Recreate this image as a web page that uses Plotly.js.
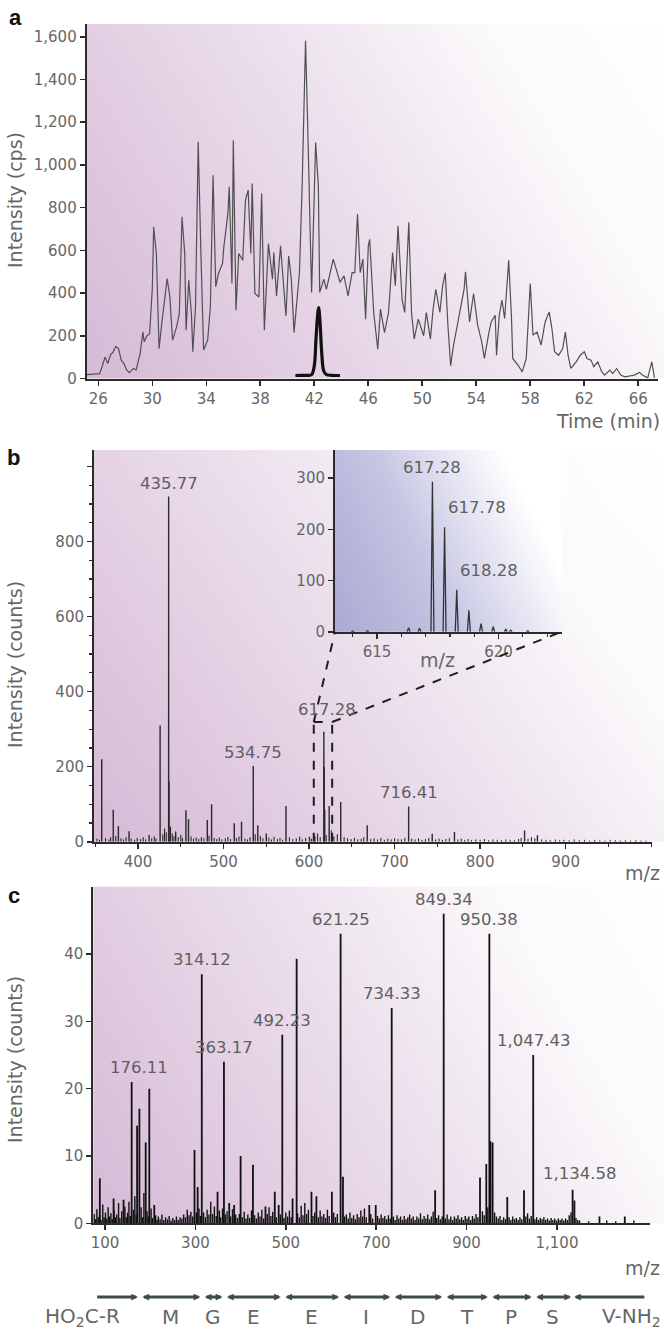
<!DOCTYPE html>
<html><head><meta charset="utf-8">
<script src="https://cdn.plot.ly/plotly-3.0.1.min.js"></script>
<style>html,body{margin:0;padding:0;background:#fff;}#chart{width:664px;height:1331px;}</style>
</head><body><div id="chart"></div>
<script>
// ---------------- DATA ----------------
// Panel a: total ion chromatogram (time min, intensity cps)
const ticPoints = [[25.15,18],[25.6,20],[26.1,23],[26.3,60],[26.5,100],[26.7,70],[26.9,110],[27.1,125],[27.3,150],[27.5,140],[27.7,86],[27.9,70],[28.1,40],[28.3,27],[28.6,47],[28.8,40],[29.1,117],[29.3,218],[29.4,172],[29.6,200],[29.8,210],[30.0,420],[30.1,710],[30.3,585],[30.5,140],[30.7,258],[30.9,367],[31.1,468],[31.3,382],[31.5,180],[31.8,242],[32.0,304],[32.2,757],[32.4,585],[32.5,226],[32.7,460],[32.9,300],[33.0,125],[33.2,335],[33.4,1108],[33.6,585],[33.8,133],[34.1,180],[34.3,335],[34.5,952],[34.7,430],[34.9,492],[35.2,538],[35.3,617],[35.6,773],[35.7,898],[35.9,445],[36.0,1116],[36.2,320],[36.4,585],[36.7,554],[36.9,835],[37.1,882],[37.3,585],[37.4,913],[37.6,398],[37.9,382],[38.1,866],[38.3,226],[38.6,632],[38.9,465],[39.0,590],[39.2,387],[39.5,621],[39.7,450],[39.9,293],[40.1,574],[40.3,465],[40.5,215],[40.7,371],[40.9,496],[41.1,902],[41.35,1581],[41.5,1214],[41.8,403],[42.1,1105],[42.3,902],[42.4,403],[42.7,465],[42.9,418],[43.2,496],[43.4,559],[43.7,496],[43.9,450],[44.2,481],[44.5,387],[44.8,496],[45.0,496],[45.2,770],[45.4,496],[45.6,559],[45.8,278],[46.0,621],[46.1,652],[46.4,309],[46.7,137],[46.9,325],[47.2,215],[47.5,309],[47.8,590],[48.0,434],[48.2,715],[48.5,371],[48.7,309],[49.0,731],[49.2,309],[49.4,184],[49.7,278],[50.1,200],[50.3,309],[50.6,184],[50.8,325],[51.0,418],[51.3,309],[51.5,430],[51.7,495],[51.9,247],[52.1,60],[52.3,150],[52.5,215],[52.9,340],[53.1,420],[53.2,500],[53.5,265],[53.8,398],[54.1,250],[54.4,172],[54.6,94],[54.9,203],[55.1,265],[55.4,296],[55.5,109],[55.7,296],[55.9,367],[56.1,281],[56.4,554],[56.6,296],[56.7,94],[57.1,62],[57.4,31],[57.7,94],[58.0,445],[58.2,203],[58.5,218],[58.8,156],[59.1,265],[59.4,312],[59.6,234],[59.8,125],[60.1,109],[60.4,140],[60.6,218],[60.8,109],[61.0,47],[61.4,78],[61.7,109],[62.0,125],[62.2,94],[62.5,86],[62.7,55],[63.0,78],[63.3,31],[63.5,16],[63.9,39],[64.1,23],[64.4,47],[64.7,16],[65.0,8],[65.4,12],[65.7,16],[66.1,28],[66.3,16],[66.7,3],[67.0,78],[67.2,3]];
// Panel a: selected ion chromatogram
const sicPoints = [[40.6,14],[41.0,15],[41.5,15],[41.8,18],[42.0,60],[42.12,180],[42.25,300],[42.32,332],[42.42,270],[42.55,120],[42.7,35],[42.9,18],[43.3,15],[43.9,14]];
const timeTicks = [26,30,34,38,42,46,50,54,58,62,66];
const ticYTicks = [0,200,400,600,800,1000,1200,1400,1600];

// Panel b: MS spectrum (m/z, counts)
const msPeaks = [[357.5,220],[371,85],[377,42],[389.5,28],[413,18],[425.8,310],[435.77,920],[436.27,160],[444,27],[456,84],[459,60],[481,58],[486,100],[512.5,49],[521,53],[534.75,202],[540,44],[550,22],[573,95],[600.5,13],[617.28,293],[617.78,200],[618.28,85],[623.5,95],[637,106],[668,44],[716.41,94],[744,21],[770,26],[852,30],[867,17]];
const msNoise = [[352,8],[355,5],[362,10],[366,6],[368,12],[374,15],[380,9],[383,6],[386,12],[392,8],[396,5],[399,10],[403,7],[406,12],[409,6],[416,9],[419,14],[421,8],[429,20],[431,35],[433,25],[438,40],[440,22],[442,15],[447,12],[450,18],[452,10],[462,14],[465,8],[468,11],[471,7],[474,12],[477,9],[483,16],[489,10],[492,7],[495,11],[498,6],[502,9],[505,13],[508,7],[515,10],[518,14],[525,8],[528,6],[531,12],[537,20],[543,15],[546,9],[553,11],[556,6],[559,13],[563,7],[566,10],[569,5],[577,12],[581,7],[585,9],[589,14],[592,6],[596,10],[603,8],[607,15],[610,22],[613,12],[620,18],[626,30],[629,14],[633,20],[641,12],[645,9],[649,7],[653,10],[657,6],[661,8],[664,12],[672,7],[676,9],[680,6],[684,10],[688,5],[692,8],[696,6],[700,9],[704,7],[708,6],[712,10],[720,8],[724,6],[728,9],[732,5],[736,7],[740,10],[748,6],[752,8],[756,5],[760,7],[764,9],[774,6],[778,8],[782,5],[786,7],[790,4],[795,6],[800,5],[805,7],[810,4],[815,6],[820,5],[825,4],[830,6],[835,5],[840,4],[845,7],[848,10],[856,8],[860,12],[864,9],[872,6],[877,5],[882,4],[888,6],[893,4],[898,5],[904,4],[910,6],[916,4],[922,5],[928,3],[934,5],[940,4],[946,3],[952,5],[958,4],[964,3],[970,4],[976,3],[982,4],[988,3],[994,3]];
const msLabels = [435.77, 534.75, 716.41];
const msZoomLabel = 617.28;
const msZoomBox = [605.5, 627, 319];   // m/z from, m/z to, counts
const msXTicks = [400,500,600,700,800,900];
const msYTicks = [0,200,400,600,800,1000];
const msYTickText = ['0','200','400','600','800',''];

// Inset: isotope cluster
const insetPeaks = [[614.0,1.5],[614.6,2],[616.3,8],[616.75,7],[617.28,293],[617.78,204],[618.28,82],[618.78,42],[619.28,16],[619.78,10],[620.3,5],[620.5,3],[621.2,2]];
const insetLabels = [617.28, 617.78, 618.28];
const insetXTicks = [615,620];
const insetYTicks = [0,100,200,300];

// Panel c: MS/MS spectrum
const cPeaks = [[88.6,6.7],[119,3.7],[141,3.5],[159,21],[171,14.5],[176.11,17],[190,12],[198,20],[209,2.7],[298,10.9],[305,5.4],[314.12,37],[349,4.7],[363.17,24],[374.8,3],[385.7,2.7],[400,10],[427.3,8.7],[455,2.5],[475.6,4.7],[484.3,2.7],[492.23,28],[515,3.7],[524,39.3],[556.8,4.7],[567.7,4],[602,4.7],[621.25,43],[626.5,6.9],[684.7,2.7],[699,2.7],[734.33,32],[830.4,4.9],[849.34,46],[929.7,6.8],[943.6,8.8],[950.38,43],[952.9,12.2],[957.6,12],[990,3.9],[1027,4.9],[1047.43,25],[1134.58,5],[1138.6,3.4],[1194,1],[1250,1]];
const cNoise = [[76,1.4],[79,0.6],[82,2.1],[85,0.9],[88,1.2],[91,0.5],[95,2.8],[98,0.9],[101,1.6],[104,0.7],[107,2.4],[110,1.0],[113,1.5],[116,0.6],[120,2.0],[123,0.9],[126,1.3],[130,3.0],[133,0.8],[137,1.8],[144,2.5],[147,0.9],[150,1.6],[153,3.2],[156,1.1],[163,2.0],[166,4.0],[169,1.3],[180,2.4],[183,0.9],[186,4.5],[193,1.8],[196,1.0],[202,2.2],[205,0.8],[212,1.2],[215,0.5],[218,1.0],[222,0.6],[226,1.3],[230,0.5],[234,0.9],[238,0.6],[242,1.1],[246,0.4],[250,0.8],[254,0.5],[258,1.0],[262,0.5],[266,0.9],[270,0.7],[274,1.3],[278,0.9],[282,2.0],[286,1.2],[290,1.7],[294,1.0],[302,1.6],[308,2.2],[311,1.1],[318,1.6],[322,0.9],[326,2.0],[330,1.3],[334,3.2],[338,1.4],[342,2.5],[346,1.1],[353,1.9],[356,0.9],[360,2.2],[366,1.3],[370,1.8],[378,1.0],[382,2.1],[389,1.3],[393,0.8],[397,1.4],[404,0.9],[408,1.7],[412,0.7],[416,1.3],[420,0.8],[424,1.9],[431,1.2],[435,0.7],[439,1.6],[443,1.0],[447,2.0],[451,0.7],[459,1.4],[463,2.4],[467,1.1],[471,1.7],[479,0.9],[488,1.3],[496,0.8],[500,1.6],[504,1.0],[508,1.9],[512,0.9],[526,1.5],[530,0.9],[534,2.6],[538,1.2],[542,3.0],[546,1.4],[550,2.0],[560,1.1],[564,1.6],[572,0.9],[576,1.9],[580,1.0],[584,1.4],[588,0.8],[592,2.0],[596,1.1],[606,1.6],[610,0.9],[614,1.4],[630,1.0],[634,1.3],[638,0.7],[642,1.6],[646,0.8],[650,1.2],[654,0.6],[658,1.4],[662,0.9],[666,1.9],[670,1.0],[674,2.2],[678,0.9],[688,1.4],[692,0.7],[703,1.1],[707,0.7],[711,1.3],[715,0.8],[719,1.1],[723,0.6],[727,1.2],[731,0.7],[738,1.0],[742,0.5],[746,1.2],[750,0.7],[754,1.0],[758,0.5],[762,1.1],[766,0.6],[770,0.9],[774,1.3],[778,0.7],[782,1.0],[786,0.5],[790,1.0],[794,0.7],[798,1.5],[802,0.6],[806,1.1],[810,0.7],[814,1.3],[818,0.6],[822,1.0],[826,1.7],[834,0.8],[838,1.2],[842,0.6],[846,1.0],[853,0.7],[857,1.3],[861,0.6],[865,1.0],[869,0.5],[873,1.0],[877,0.7],[881,1.2],[885,0.6],[889,0.9],[893,0.5],[897,1.1],[901,0.7],[905,1.0],[909,0.5],[913,1.1],[917,0.7],[921,1.4],[925,0.9],[935,1.8],[939,1.2],[947,2.4],[962,1.6],[966,1.0],[970,0.7],[974,1.1],[978,0.5],[982,0.9],[986,0.6],[994,0.9],[998,0.5],[1002,1.0],[1006,0.6],[1010,0.8],[1014,0.5],[1018,0.9],[1022,0.6],[1031,1.0],[1035,1.5],[1039,0.7],[1043,1.1],[1051,0.6],[1055,0.9],[1059,0.5],[1063,0.8],[1067,0.6],[1071,0.9],[1075,0.5],[1079,0.7],[1083,0.4],[1087,0.8],[1091,0.5],[1095,0.7],[1099,0.4],[1103,0.7],[1107,0.5],[1111,0.7],[1115,0.4],[1119,0.7],[1123,0.5],[1127,1.2],[1131,1.6],[1142,0.8],[1146,0.5],[1150,0.4],[1170,0.3],[1210,0.4],[1230,0.3],[1270,0.4]];
const cLabels = [176.11, 314.12, 363.17, 492.23, 621.25, 734.33, 849.34, 950.38, 1047.43, 1134.58];
const cXTicks = [100,300,500,700,900,1100];
const cYTicks = [0,10,20,30,40];

// Sequence ladder
const seqBounds = [176.11, 314.12, 363.17, 492.23, 621.25, 734.33, 849.34, 950.38, 1047.43, 1134.58];
const seqResidues = ['HO<sub>2</sub>C-R','M','G','E','E','I','D','T','P','S','V-NH<sub>2</sub>'];
const seqStart = 76, seqEnd = 1300;

// ---------------- HELPERS ----------------
const W = 664, H = 1331;
const px = X => X / W;
const py = Y => 1 - Y / H;
const FONT = 'DejaVu Sans, sans-serif';
const TXT = '#5f5f5f';
const AX = '#2b2b2b';

function sticks(pairs){
  const x = [], y = [];
  pairs.forEach(([m,h]) => { x.push(m, m, null); y.push(0, h, null); });
  return {x, y};
}
function spikes(pairs, hw){
  const x = [], y = [];
  pairs.forEach(([m,h]) => { x.push(m-hw, m, m+hw, null); y.push(0, h, 0, null); });
  return {x, y};
}
function heightOf(pairs, m){ const p = pairs.find(q => q[0] === m); return p ? p[1] : 0; }
function fmt(v){ return v.toLocaleString('en-US',{minimumFractionDigits:2, maximumFractionDigits:2}); }

function gradient(w, h, vec, stops){
  const c = document.createElement('canvas'); c.width = w; c.height = h;
  const g = c.getContext('2d');
  const lg = g.createLinearGradient(vec[0]*w, vec[1]*h, vec[2]*w, vec[3]*h);
  stops.forEach(s => lg.addColorStop(s[0], s[1]));
  g.fillStyle = lg; g.fillRect(0,0,w,h);
  return c.toDataURL('image/png');
}
const pinkStops = [[0,'#d6bad6'],[0.28,'#e3cfe3'],[0.55,'#efe6f0'],[0.78,'#fcfafc'],[1,'#ffffff']];
const blueStops = [[0,'#acabd3'],[0.4,'#c5c4e2'],[0.7,'#e9e9f5'],[0.88,'#ffffff'],[1,'#ffffff']];

function bgImage(src, X0, Y0, X1, Y1){
  return {source: src, xref:'paper', yref:'paper', x: px(X0), y: py(Y0), sizex: (X1-X0)/W, sizey: (Y1-Y0)/H,
          xanchor:'left', yanchor:'top', sizing:'stretch', layer:'below'};
}

const axisBase = {
  showline:true, linecolor:AX, linewidth:2, ticks:'outside', ticklen:5, tickwidth:1.6, tickcolor:AX,
  showgrid:false, zeroline:false, tickfont:{family:FONT, size:15, color:'#666'}, fixedrange:true
};
const minorBase = {ticks:'outside', ticklen:3, tickwidth:1.2, tickcolor:AX, showgrid:false};

// ---------------- GEOMETRY ----------------
const dom = {
  a:{x:[px(86.7), px(658)], y:[py(378.5), py(24)]},
  b:{x:[px(94), px(652)], y:[py(841.7), py(450)]},
  i:{x:[px(335), px(561.7)], y:[py(631.7), py(450)]},
  c:{x:[px(93.3), px(650)], y:[py(1223.3), py(886.7)]}
};

const layout = {
  width: W, height: H, margin:{l:0,r:0,t:0,b:0}, showlegend:false,
  paper_bgcolor:'#ffffff', plot_bgcolor:'rgba(0,0,0,0)',
  xaxis: Object.assign({}, axisBase, {domain:dom.a.x, range:[25.14,67.46], anchor:'y', tickmode:'array', tickvals:timeTicks}),
  yaxis: Object.assign({}, axisBase, {domain:dom.a.y, range:[0,1660], anchor:'x', tickmode:'array', tickvals:ticYTicks, tickformat:',d'}),
  xaxis2: Object.assign({}, axisBase, {domain:dom.b.x, range:[348.5,1001], anchor:'y2', tickmode:'array', tickvals:msXTicks,
          minor:Object.assign({}, minorBase, {tickmode:'linear', tick0:0, dtick:50})}),
  yaxis2: Object.assign({}, axisBase, {domain:dom.b.y, range:[0,1044], anchor:'x2', tickmode:'array', tickvals:msYTicks, ticktext:msYTickText,
          minor:Object.assign({}, minorBase, {tickmode:'linear', tick0:0, dtick:50})}),
  xaxis3: Object.assign({}, axisBase, {domain:dom.i.x, range:[613.27,622.6], anchor:'y3', tickmode:'array', tickvals:insetXTicks,
          minor:Object.assign({}, minorBase, {tickmode:'linear', tick0:0, dtick:1})}),
  yaxis3: Object.assign({}, axisBase, {domain:dom.i.y, range:[0,355], anchor:'x3', tickmode:'array', tickvals:insetYTicks}),
  xaxis4: Object.assign({}, axisBase, {domain:dom.c.x, range:[74.1,1305.8], anchor:'y4', tickmode:'array', tickvals:cXTicks, tickformat:',d'}),
  yaxis4: Object.assign({}, axisBase, {domain:dom.c.y, range:[0,50], anchor:'x4', tickmode:'array', tickvals:cYTicks}),
  images: [
    bgImage(gradient(580,355,[0,1,1,0],pinkStops), 86.7, 24, 664, 378.5),
    bgImage(gradient(570,392,[0,1,1,0],pinkStops), 94, 450, 664, 841.7),
    bgImage(gradient(570,337,[0,1,1,0],pinkStops), 93.3, 886.7, 664, 1223.3),
    bgImage(gradient(227,182,[0,0.9,1,0.3],blueStops), 335, 450, 561.7, 631.7)
  ],
  annotations: [],
  shapes: []
};

// ---------------- TRACES ----------------
const traces = [];
traces.push({x: ticPoints.map(p=>p[0]), y: ticPoints.map(p=>p[1]), xaxis:'x', yaxis:'y', mode:'lines',
  line:{color:'#505050', width:1.2}, hoverinfo:'skip'});
traces.push({x: sicPoints.map(p=>p[0]), y: sicPoints.map(p=>p[1]), xaxis:'x', yaxis:'y', mode:'lines',
  line:{color:'#111', width:3.2, shape:'spline'}, hoverinfo:'skip'});

const bn = sticks(msNoise);
traces.push({x:bn.x, y:bn.y, xaxis:'x2', yaxis:'y2', mode:'lines', line:{color:'#1c1c1c', width:1}, hoverinfo:'skip'});
const bp = sticks(msPeaks);
traces.push({x:bp.x, y:bp.y, xaxis:'x2', yaxis:'y2', mode:'lines', line:{color:'#2a2a2a', width:1.4}, hoverinfo:'skip'});

const ip = spikes(insetPeaks, 0.06);
traces.push({x:ip.x, y:ip.y, xaxis:'x3', yaxis:'y3', mode:'lines', line:{color:'#333', width:1.3}, hoverinfo:'skip'});

const cn = sticks(cNoise);
traces.push({x:cn.x, y:cn.y, xaxis:'x4', yaxis:'y4', mode:'lines', line:{color:'#111', width:1.4}, hoverinfo:'skip'});
const cp = sticks(cPeaks);
traces.push({x:cp.x, y:cp.y, xaxis:'x4', yaxis:'y4', mode:'lines', line:{color:'#111', width:1.8}, hoverinfo:'skip'});

// ---------------- ANNOTATIONS ----------------
const ann = layout.annotations;
const labelFont = {family:FONT, size:16.5, color:TXT};
function note(o){ ann.push(Object.assign({showarrow:false, font:labelFont, yanchor:'middle'}, o)); }

// panel letters
[['a',15,17],['b',13,457],['c',14,895]].forEach(([t,X,Y]) =>
  note({text:'<b>'+t+'</b>', xref:'paper', yref:'paper', x:px(X), y:py(Y), xanchor:'center', yanchor:'middle',
        font:{family:'Liberation Sans, Arial, sans-serif', size:22, color:'#111'}}));

// axis titles
const titleFont = {family:FONT, size:19, color:'#666'};
note({text:'Intensity (cps)', xref:'paper', yref:'paper', x:px(15), y:py(200), xanchor:'center', textangle:-90, font:titleFont});
note({text:'Intensity (counts)', xref:'paper', yref:'paper', x:px(15), y:py(665), xanchor:'center', textangle:-90, font:titleFont});
note({text:'Intensity (counts)', xref:'paper', yref:'paper', x:px(15), y:py(1060), xanchor:'center', textangle:-90, font:titleFont});
note({text:'Time (min)', xref:'paper', yref:'paper', x:px(662), y:py(421), xanchor:'right', font:titleFont});
note({text:'m/z', xref:'paper', yref:'paper', x:px(662), y:py(873), xanchor:'right', font:titleFont});
note({text:'m/z', xref:'paper', yref:'paper', x:px(437), y:py(660), xanchor:'center', font:titleFont});
note({text:'m/z', xref:'paper', yref:'paper', x:px(662), y:py(1268), xanchor:'right', font:titleFont});

// panel b labels
msLabels.forEach(m => note({text:fmt(m), xref:'x2', yref:'y2', x:m, y:heightOf(msPeaks,m), xanchor:'center', yanchor:'bottom', yshift:2}));
note({text:fmt(msZoomLabel), xref:'x2', yref:'y2', x:msZoomLabel, y:msZoomBox[2], xanchor:'center', yanchor:'bottom', xshift:3, yshift:1});

// inset labels
insetLabels.forEach((m,i) => note({text:fmt(m), xref:'x3', yref:'y3', x:m, y:heightOf(insetPeaks,m),
  xanchor: i===0 ? 'center' : 'left', yanchor:'bottom', xshift: i===0 ? 0 : 1, yshift: i===0 ? 3 : 8}));

// panel c labels
const cLabelShift = {176.11:[0,30], 1134.58:[7,5]};
cLabels.forEach(m => {
  const s = cLabelShift[m] || [0,3];
  note({text:fmt(m), xref:'x4', yref:'y4', x:m, y:heightOf(cPeaks,m), xanchor:'center', yanchor:'bottom', xshift:s[0], yshift:s[1]});
});

// sequence arrows
const edges = [seqStart].concat(seqBounds, [seqEnd]);
const arrowY = py(1297);
for(let i=0;i<edges.length-1;i++){
  let head, tail, side;
  if(i===0){ head = edges[1]; tail = edges[0]; side = 'end'; }
  else if(i===edges.length-2){ head = edges[i]; tail = edges[i+1]; side = 'end'; }
  else { head = edges[i+1]; tail = edges[i]; side = 'end+start'; }
  ann.push({text:'', xref:'x4', yref:'paper', x:head, y:arrowY, axref:'x4', ayref:'pixel', ax:tail, ay:0,
    showarrow:true, arrowhead:2, startarrowhead:2, arrowside:side, arrowsize:0.45, startarrowsize:0.45,
    arrowwidth:3, arrowcolor:'#3e4b4b', standoff:1.5, startstandoff:1.5});
}
const resFont = {family:FONT, size:20, color:'#666'};
seqResidues.forEach((r,i) => {
  if(i===0){ note({text:r, xref:'paper', yref:'paper', x:px(82), y:py(1317), xanchor:'center', font:resFont}); }
  else if(i===seqResidues.length-1){ note({text:r, xref:'paper', yref:'paper', x:px(663), y:py(1317), xanchor:'right', font:resFont}); }
  else { note({text:r, xref:'x4', yref:'paper', x:(edges[i]+edges[i+1])/2, y:py(1317), xanchor:'center', font:resFont}); }
});

// ---------------- ZOOM-BOX SHAPES ----------------
function toData(axis, p){ return axis.range[0] + (p - axis.domain[0])/(axis.domain[1]-axis.domain[0])*(axis.range[1]-axis.range[0]); }
const xb = layout.xaxis2, yb = layout.yaxis2;
const insetLeft = toData(xb, dom.i.x[0]), insetRight = toData(xb, dom.i.x[1]), insetBottom = toData(yb, dom.i.y[0]);
const dash = {color:'#1e1e1e', width:2, dash:'dash'};
const [bx0, bx1, btop] = msZoomBox;
[[bx0,0,bx0,btop],[bx1,0,bx1,btop],[bx0,btop,bx1,btop],[bx0,btop,insetLeft,insetBottom],[bx1,btop,insetRight,insetBottom]]
  .forEach(([x0,y0,x1,y1]) => layout.shapes.push({type:'line', xref:'x2', yref:'y2', x0, y0, x1, y1, line:dash, layer:'above'}));

Plotly.newPlot('chart', traces, layout, {staticPlot:true, displayModeBar:false});
</script></body></html>
